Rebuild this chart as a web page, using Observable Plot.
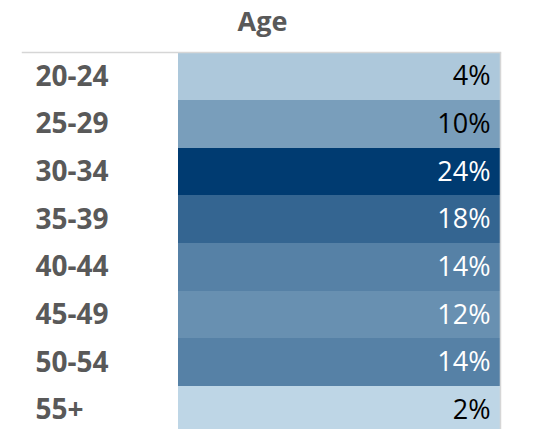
<!DOCTYPE html>
<html>
<head>
<meta charset="utf-8">
<script src="https://cdn.jsdelivr.net/npm/d3@7"></script>
<script src="https://cdn.jsdelivr.net/npm/@observablehq/plot@0.6"></script>
<style>
  html, body { margin: 0; padding: 0; background: #fff; overflow: hidden; }
</style>
</head>
<body>
<div id="chart"></div>
<script>
const title = "Age";
const ages = ["20-24", "25-29", "30-34", "35-39", "40-44", "45-49", "50-54", "55+"];
const shares = [4, 10, 24, 18, 14, 12, 14, 2];

const data = ages.map((age, i) => ({age, value: shares[i]}));

const chart = Plot.plot({
  width: 538,
  height: 429,
  marginLeft: 178,
  marginRight: 38,
  marginTop: 53,
  marginBottom: 0,
  style: {fontFamily: "'Open Sans', sans-serif", background: "#fff"},
  y: {domain: ages, range: [52.5, 433.5], padding: 0, round: false, axis: null},
  color: {type: "linear", domain: [2, 24], range: ["#bed6e6", "#003b71"], interpolate: "rgb"},
  marks: [
    Plot.cell(data, {y: "age", fill: "value", shapeRendering: "crispEdges"}),
    Plot.frame({anchor: "top", stroke: "#d6d6d6", strokeWidth: 1.5, insetLeft: -156, dy: -1}),
    Plot.frame({anchor: "right", stroke: "#d6d6d6", strokeWidth: 1.5}),
    Plot.text(data, {
      y: "age", text: "age", frameAnchor: "left", dx: -143, textAnchor: "start",
      fill: "#595959", fontWeight: "bold", fontSize: 28
    }),
    Plot.text(data, {
      y: "age", text: d => d.value + "%", frameAnchor: "right", dx: -10, textAnchor: "end",
      fill: d => d.value >= 12 ? "#ffffff" : "#000000", fontSize: 27
    }),
    Plot.text([title], {
      text: d => d, frameAnchor: "top", lineAnchor: "middle", dx: -77, dy: -31.5,
      fill: "#595959", fontWeight: "bold", fontSize: 27
    })
  ]
});
document.getElementById("chart").appendChild(chart);
</script>
</body>
</html>
